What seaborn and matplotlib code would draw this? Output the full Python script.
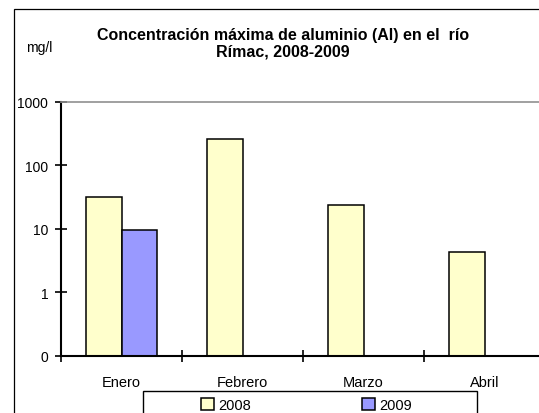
import matplotlib
matplotlib.use("Agg")
import matplotlib.pyplot as plt
from matplotlib.patches import Rectangle
import numpy as np
import pandas as pd
import seaborn as sns

# datos (mg/l)
meses = ["Enero", "Febrero", "Marzo", "Abril"]
anios = ["2008", "2009"]
valores_2008 = [31.5, 256.0, 23.6, 4.3]
valores_2009 = [9.6, np.nan, np.nan, np.nan]
y_ticks = [0.1, 1, 10, 100, 1000]
y_tick_labels = ["0", "1", "10", "100", "1000"]

colores = {"2008": "#FFFFCC", "2009": "#9999FF"}

df = pd.DataFrame({
    "mes": meses * 2,
    "anio": [anios[0]] * len(meses) + [anios[1]] * len(meses),
    "valor": valores_2008 + valores_2009,
})

sns.set_style("white")
plt.rcParams["font.family"] = ["Liberation Sans", "DejaVu Sans"]
plt.rcParams["text.color"] = "black"
plt.rcParams["xtick.color"] = "black"
plt.rcParams["ytick.color"] = "black"

W, H = 539, 414
fig = plt.figure(figsize=(W / 100, H / 100), dpi=100)
ax = fig.add_axes([61 / W, 1 - 356.7 / H, (545 - 61) / W, (356.7 - 102.7) / H])
ax.set_yscale("log")

sns.barplot(data=df, x="mes", y="valor", hue="anio", order=meses, hue_order=anios,
            palette=colores, width=0.58, edgecolor="black", linewidth=1.1,
            saturation=1, legend=False, ax=ax)

ax.set_ylim(0.1, 1000)
ax.set_xlim(-0.5, 3.5)
ax.set_yticks(y_ticks)
ax.set_yticklabels(y_tick_labels)
ax.yaxis.set_minor_locator(matplotlib.ticker.NullLocator())
ax.set_xticks(np.arange(len(meses) + 1) - 0.5, minor=False)
ax.set_xticklabels([""] * (len(meses) + 1))
ax.set_xticks(np.arange(len(meses)), minor=True)
ax.set_xticklabels(meses, minor=True)
ax.tick_params(bottom=True, left=True, which="both", colors="black")
ax.tick_params(axis="x", which="minor", length=0, pad=14, labelsize=10.5)
ax.tick_params(axis="x", which="major", direction="inout", length=8.5, width=1.2)
ax.tick_params(axis="y", which="major", direction="inout", length=8.5, width=1.2,
               pad=5, labelsize=10)
ax.set_xlabel("")
ax.set_ylabel("")

for lado in ["left", "bottom"]:
    ax.spines[lado].set_color("black")
    ax.spines[lado].set_linewidth(1.5)
ax.spines["top"].set_color("#909090")
ax.spines["top"].set_linewidth(1.2)
ax.spines["right"].set_visible(False)

# marco exterior del grafico (recortado a la derecha y abajo)
fig.patches.append(Rectangle((14 / W, -0.05), 1.0, 1 - 10 / H + 0.05, transform=fig.transFigure,
                             fill=False, edgecolor="black", linewidth=0.9))

fig.text(283 / W, 1 - 28 / H, "Concentración máxima de aluminio (Al) en el  río\nRímac, 2008-2009",
         ha="center", va="top", fontsize=11.5, fontweight="bold", linespacing=1.15)
fig.text(26 / W, 1 - 52 / H, "mg/l", ha="left", va="baseline", fontsize=10)

# leyenda
fig.patches.append(Rectangle((143 / W, -0.05), (477 - 143) / W, 1 - 392.3 / H + 0.05,
                             transform=fig.transFigure, fill=False, edgecolor="black", linewidth=1.0))
handles = [Rectangle((0, 0), 1, 1, facecolor=colores[a], edgecolor="black", linewidth=1.1) for a in anios]
fig.legend(handles, anios, loc="center left", bbox_to_anchor=(201 / W, 1 - 406 / H), ncol=2,
           frameon=False, fontsize=10.5, handlelength=0.9, handleheight=0.9, handletextpad=0.3,
           columnspacing=7.6, borderpad=0, borderaxespad=0)

fig.savefig("out.png", dpi=100)
